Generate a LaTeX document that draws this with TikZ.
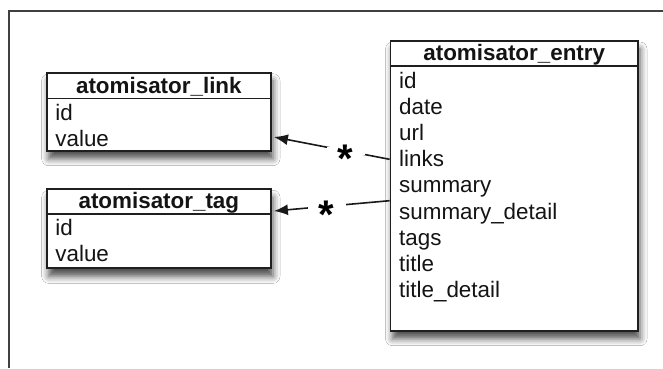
\documentclass[tikz,border=0pt]{standalone}
\usepackage{fontspec}
\setmainfont{Liberation Sans}
\usetikzlibrary{arrows.meta,shadows.blur}
\begin{document}
\begin{tikzpicture}[x=1pt,y=-1pt,
  tbl/.style={draw=black!88, line width=1.8pt, fill=white, rectangle, inner sep=0pt,
    blur shadow={shadow xshift=2pt, shadow yshift=-8pt, shadow blur radius=7pt, shadow opacity=70}},
  hdrline/.style={draw=black!88, line width=1.8pt},
  ttl/.style={anchor=base, font=\fontsize{22.4}{26}\selectfont\bfseries, inner sep=0pt, text=black!92},
  fld/.style={anchor=base west, font=\fontsize{22.4}{26}\selectfont, inner sep=0pt, text=black!92},
  conn/.style={draw=black!90, line width=1.6pt, -{Latex[length=14pt,width=11pt]}},
  mult/.style={fill=white, inner sep=0pt, minimum width=38pt, minimum height=8pt,
    text height=0pt, text depth=0pt, font=\fontsize{40}{40}\selectfont\bfseries}
]
\useasboundingbox (0,0) rectangle (663,368);
\fill[white] (0,0) rectangle (663,368);
\draw[line width=1.6pt, black!75] (9,368) -- (9,10.7) -- (663,10.7);

% atomisator_entry
\node[tbl, minimum width=247.5pt, minimum height=289.7pt] (entry) at (514.25,185.85) {};
\draw[hdrline] ([yshift=-25.7pt]entry.north west) -- ([yshift=-25.7pt]entry.north east);
\node[ttl] (entryT) at (514.25,60) {atomisator\_entry};
\node[fld] (e1) at (399,88) {id};
\node[fld] (e2) at (399,114.2) {date};
\node[fld] (e3) at (399,140.4) {url};
\node[fld] (e4) at (399,166.6) {links};
\node[fld] (e5) at (399,192.8) {summary};
\node[fld] (e6) at (399,219) {summary\_detail};
\node[fld] (e7) at (399,245.2) {tags};
\node[fld] (e8) at (399,271.4) {title};
\node[fld] (e9) at (399,297.6) {title\_detail};

% atomisator_link
\node[tbl, minimum width=224.3pt, minimum height=78pt] (link) at (158.85,111.7) {};
\draw[hdrline] ([yshift=-26.6pt]link.north west) -- ([yshift=-26.6pt]link.north east);
\node[ttl] (linkT) at (158.85,93) {atomisator\_link};
\node[fld] (l1) at (55.2,120) {id};
\node[fld] (l2) at (55.2,146) {value};

% atomisator_tag
\node[tbl, minimum width=224.3pt, minimum height=79pt] (tag) at (158.85,228.8) {};
\draw[hdrline] ([yshift=-25.7pt]tag.north west) -- ([yshift=-25.7pt]tag.north east);
\node[ttl] (tagT) at (158.85,208.7) {atomisator\_tag};
\node[fld] (t1) at (55.2,235) {id};
\node[fld] (t2) at (55.2,261) {value};

% connectors
\draw[conn] ([yshift=26.55pt]entry.west) -- node[mult, pos=0.379] (m1) {\raisebox{-22pt}{*}} ([xshift=2pt,yshift=-25.3pt]link.east);
\draw[conn] ([yshift=-14.85pt]entry.west) -- node[mult, pos=0.543] (m2) {\raisebox{-22pt}{*}} ([xshift=2pt,yshift=17.8pt]tag.east);
\end{tikzpicture}
\end{document}
